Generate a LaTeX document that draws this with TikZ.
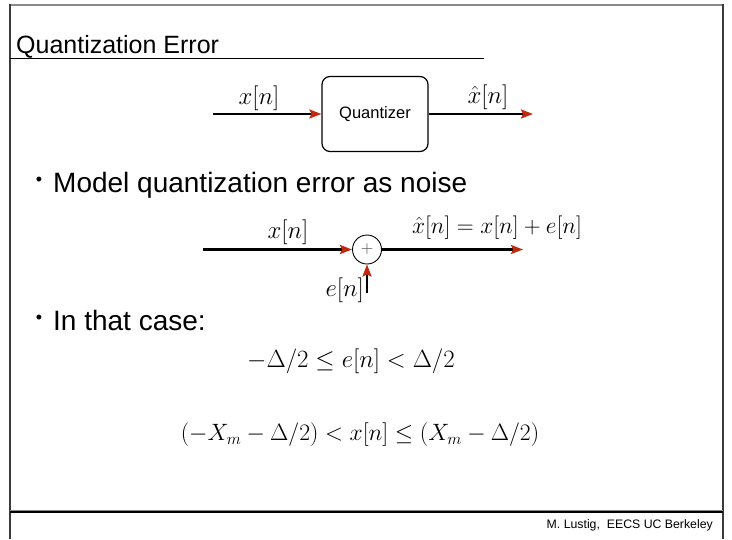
\documentclass[tikz,border=0pt]{standalone}
\usepackage{fontspec}
\setmainfont{Liberation Sans}
\usetikzlibrary{arrows.meta, positioning}
\definecolor{tipred}{HTML}{C0290E}
\definecolor{rulegray}{HTML}{8A8A8A}
\definecolor{framegray}{HTML}{3C3C3C}
\definecolor{plusgray}{HTML}{444444}
\newcommand{\fsz}[1]{\fontsize{#1}{#1}\selectfont}

\begin{document}
\begin{tikzpicture}[
    x=1pt, y=-1pt,
    sig/.style={black, line width=2.2pt,
      -{Stealth[length=12pt, width=9pt, inset=2pt, color=tipred]}},
    blockbox/.style={draw, rounded corners=8pt, line width=1.2pt,
      minimum width=106pt, minimum height=75pt, font=\fsz{16.5}},
    sumnode/.style={draw, circle, line width=0.9pt, minimum size=29pt,
      inner sep=0pt, text=plusgray, font=\fsz{17}},
    mathlbl/.style={inner sep=0pt, font=\fsz{25}},
    bulletdot/.style={inner sep=0pt, font=\fsz{18}},
    bullettext/.style={anchor=base west, inner sep=0pt, font=\fsz{28}},
  ]

  \useasboundingbox (0,0) rectangle (732,539);

  % Slide frame
  \draw[rulegray, line width=2.5pt] (10,5) -- (724,5);
  \draw[framegray, line width=1.3pt] (10,4) -- (10,539);
  \draw[framegray, line width=1.3pt] (723,4) -- (723,539);
  \draw[rulegray, line width=1pt] (10,510) -- (723,510);
  \draw[black, line width=1.5pt] (10,512) -- (723,512);

  % Title
  \node[anchor=base west, inner sep=0pt, font=\fsz{25}] (title) at (16,53)
    {Quantization Error};
  \draw[black, line width=1pt] (10,58) -- (484,58);

  % === Quantizer block ===
  \node[blockbox] (quant) at (375,114) {Quantizer};
  \coordinate (qin) at (213,114);
  \coordinate (qout) at (533,114);
  \draw[sig] (qin) -- (quant);
  \draw[sig] (quant) -- (qout);
  \node[mathlbl] (qinlbl) at (259,98) {$x[n]$};
  \node[mathlbl] (qoutlbl) at (488,97) {$\hat{x}[n]$};

  % First bullet
  \node[bulletdot] (bulA) at (39,181) {•};
  \node[bullettext] (lineA) at (53,192) {Model quantization error as noise};

  % === Additive noise model ===
  \node[sumnode] (adder) at (367,249.5) {$+$};
  \coordinate (ain) at (203,249.5);
  \coordinate (aout) at (523,249.5);
  \coordinate (ein) at (367,293);
  \draw[sig] (ain) -- (adder);
  \draw[sig] (adder) -- (aout);
  \draw[sig] (ein) -- (adder);
  \node[mathlbl] (ainlbl) at (288,232) {$x[n]$};
  \node[mathlbl] (aoutlbl) at (497,228)
    {\scalebox{0.94}{$\hat{x}[n] = x[n] + e[n]$}};
  \node[mathlbl, anchor=east] (elbl) at (364,290) {$e[n]$};

  % Second bullet
  \node[bulletdot] (bulB) at (39,319) {•};
  \node[bullettext] (lineB) at (53,330) {In that case:};

  % Bounds
  \node[mathlbl] (eqA) at (351,361) {$-\Delta/2 \le e[n] < \Delta/2$};
  \node[mathlbl] (eqB) at (360,435)
    {\scalebox{0.95}{$(-X_m - \Delta/2) < x[n] \le (X_m - \Delta/2)$}};

  % Footer
  \node[anchor=base east, inner sep=0pt, font=\fsz{12.3}] (credit) at (713,528)
    {M. Lustig,\ \ EECS UC Berkeley};

\end{tikzpicture}
\end{document}
